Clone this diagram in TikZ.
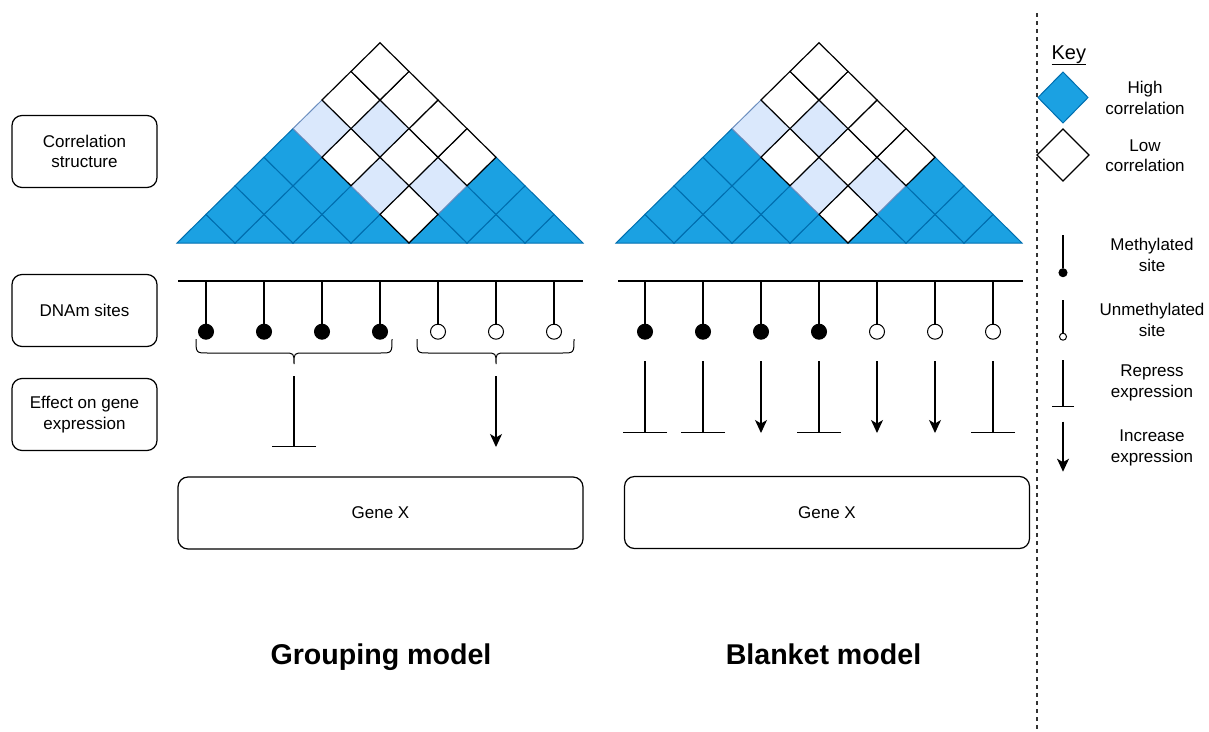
\documentclass[tikz,border=0pt]{standalone}
\usepackage{fontspec}
\setmainfont{Liberation Sans}
\usetikzlibrary{arrows.meta}
\definecolor{hiblue}{HTML}{1BA1E2}
\definecolor{hiedge}{HTML}{006EAF}
\definecolor{loblue}{HTML}{DAE8FC}
\definecolor{loedge}{HTML}{6C8EBF}
\definecolor{dashgray}{HTML}{333333}
\begin{document}
\begin{tikzpicture}[x=1pt,y=-1pt,line width=1.2pt,
  lbl/.style={font=\fontsize{17}{20.4}\selectfont,align=center,inner sep=0pt},
  rowbox/.style={draw,rounded corners=10pt,minimum width=145pt,minimum height=72pt,lbl},
  genebox/.style={draw,rounded corners=10pt,minimum width=405pt,minimum height=72pt,lbl},
  hicell/.style={fill=hiblue,draw=hiedge,line width=1pt},
  locell/.style={fill=loblue,draw=loedge,line width=1pt},
  wcell/.style={fill=white,draw=black,line width=1.2pt},
  meth/.style={circle,fill=black,draw=black,line width=1pt,minimum size=15pt,inner sep=0pt},
  unmeth/.style={circle,fill=white,draw=black,line width=1pt,minimum size=15pt,inner sep=0pt},
  repress/.style={-{Bar[width=44pt]}},
  increase/.style={-{Stealth[length=13pt,width=12pt,inset=3.5pt]}},
  title/.style={font=\bfseries\fontsize{28.6}{34}\selectfont,anchor=base,inner sep=0pt}
]
\useasboundingbox (0,0) rectangle (1209,731);

% ---- correlation triangles ----
\foreach \xo in {206,645}{
  \foreach \i in {0,...,6}{
    \filldraw[hicell] ({\xo+\i*58-29},243) -- ({\xo+\i*58},214.4) -- ({\xo+\i*58+29},243) -- cycle;
  }
  \foreach \i/\j in {0/1,1/2,2/3,0/2,1/3,0/3,4/5,5/6,4/6}{
    \filldraw[hicell] ({\xo+(\i+\j)*29},{243-(\j-\i)*28.6}) +(0,-28.6) -- +(29,0) -- +(0,28.6) -- +(-29,0) -- cycle;
  }
  \foreach \i/\j in {2/4,3/5,0/4,1/5}{
    \filldraw[locell] ({\xo+(\i+\j)*29},{243-(\j-\i)*28.6}) +(0,-28.6) -- +(29,0) -- +(0,28.6) -- +(-29,0) -- cycle;
  }
  \foreach \i/\j in {3/4,1/4,2/5,3/6,2/6,0/5,1/6,0/6}{
    \filldraw[wcell] ({\xo+(\i+\j)*29},{243-(\j-\i)*28.6}) +(0,-28.6) -- +(29,0) -- +(0,28.6) -- +(-29,0) -- cycle;
  }
}

% ---- row labels ----
\node[rowbox] (corr) at (84.5,151.5) {Correlation\\structure};
\node[rowbox] (dnam) at (84.5,310.5) {DNAm sites};
\node[rowbox] (eff) at (84.5,414.5) {Effect on gene\\expression};

% ---- DNAm line and sites ----
\coordinate (Lstart) at (178,281);
\coordinate (Lend) at (583,281);
\coordinate (Rstart) at (618,281);
\coordinate (Rend) at (1023,281);
\draw (Lstart) -- (Lend);
\draw (Rstart) -- (Rend);
\foreach \i in {0,...,3}{
  \node[meth] (L\i) at ({206+\i*58},331.7) {};
  \node[meth] (R\i) at ({645+\i*58},331.7) {};
}
\foreach \i in {4,5,6}{
  \node[unmeth] (L\i) at ({206+\i*58},331.7) {};
  \node[unmeth] (R\i) at ({645+\i*58},331.7) {};
}
\foreach \i in {0,...,6}{
  \draw (L\i |- Lstart) -- (L\i.north);
  \draw (R\i |- Rstart) -- (R\i.north);
}

% ---- braces (grouping model) ----
\coordinate (B1a) at (196,339);
\coordinate (B1b) at (392,339);
\coordinate (B1t) at (294,364);
\coordinate (B2a) at (417,339);
\coordinate (B2b) at (574,339);
\coordinate (B2t) at (496,364);
\draw[line width=1pt] (B1a) .. controls (196,353) .. (208,353) -- (284,353) .. controls (294,353) .. (B1t)
   .. controls (294,353) .. (304,353) -- (380,353) .. controls (392,353) .. (B1b);
\draw[line width=1pt] (B2a) .. controls (417,353) .. (429,353) -- (486,353) .. controls (496,353) .. (B2t)
   .. controls (496,353) .. (506,353) -- (562,353) .. controls (574,353) .. (B2b);

% ---- effects (grouping) ----
\coordinate (G1s) at (294,376);
\coordinate (G1e) at (294,447);
\coordinate (G2s) at (496,376);
\coordinate (G2e) at (496,447);
\draw[repress] (G1s) -- (G1e);
\draw[increase] (G2s) -- (G2e);

% ---- effects (blanket) ----
\foreach \i/\kind in {0/repress,1/repress,2/increase,3/repress,4/increase,5/increase,6/repress}{
  \coordinate (E\i s) at ({645+\i*58},361);
  \coordinate (E\i e) at ({645+\i*58},433);
  \draw[\kind] (E\i s) -- (E\i e);
}

% ---- gene boxes ----
\node[genebox] (geneL) at (380.5,513) {Gene X};
\node[genebox] (geneR) at (827,512.5) {Gene X};

% ---- titles ----
\node[title] (tG) at (381,664) {Grouping model};
\node[title] (tB) at (823.5,664) {Blanket model};

% ---- divider ----
\coordinate (dtop) at (1037,13);
\coordinate (dbot) at (1037,731);
\draw[dashgray,line width=1.3pt,dash pattern=on 4pt off 4pt] (dtop) -- (dbot);

% ---- key ----
\node[font=\fontsize{20}{24}\selectfont,anchor=base west,inner sep=0pt] (key) at (1051,59) {\underline{Key}};
\filldraw[hicell] (1063,72) -- (1088,97.5) -- (1063,123) -- (1038,97.5) -- cycle;
\filldraw[wcell] (1063,129) -- (1089,155) -- (1063,181) -- (1037,155) -- cycle;
\node[lbl] (khi) at (1145,98) {High\\correlation};
\node[lbl] (klo) at (1145,155.5) {Low\\correlation};

\node[circle,fill=black,draw=black,line width=1pt,minimum size=8pt,inner sep=0pt] (kmdot) at (1063,272.7) {};
\coordinate (kmtop) at (1063,235);
\draw (kmtop) -- (kmdot);
\node[lbl] (kmeth) at (1152,255) {Methylated\\site};

\node[circle,fill=white,draw=black,line width=1pt,minimum size=7pt,inner sep=0pt] (kudot) at (1063,336.7) {};
\coordinate (kutop) at (1063,300);
\draw (kutop) -- (kudot.north);
\node[lbl] (kunm) at (1152,320) {Unmethylated\\site};

\coordinate (krs) at (1063,360);
\coordinate (kre) at (1063,407);
\draw[-{Bar[width=22pt]}] (krs) -- (kre);
\node[lbl] (krep) at (1152,383) {Repress\\expression};

\coordinate (kis) at (1063,421.7);
\coordinate (kie) at (1063,471.7);
\draw[increase] (kis) -- (kie);
\node[lbl] (kinc) at (1152,448) {Increase\\expression};
\end{tikzpicture}
\end{document}
